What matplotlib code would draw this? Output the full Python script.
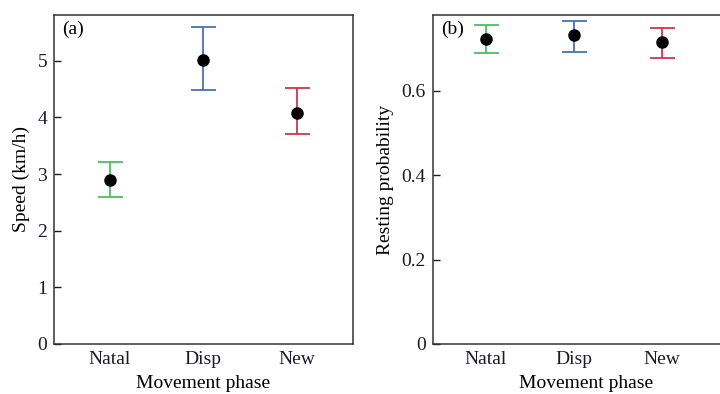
import numpy as np
import matplotlib
matplotlib.use("Agg")
import matplotlib.pyplot as plt

plt.rcParams['font.family'] = ['Liberation Serif', 'DejaVu Serif']

phases = ['Natal', 'Disp', 'New']
colors = ['#4cbf5e', '#4a6fb4', '#d1344c']

# (a) speed, km/h
speed_mean = [2.90, 5.01, 4.08]
speed_low = [2.60, 4.48, 3.70]
speed_high = [3.22, 5.59, 4.52]

# (b) resting probability
rest_mean = [0.723, 0.732, 0.716]
rest_low = [0.690, 0.693, 0.679]
rest_high = [0.757, 0.766, 0.750]

W, H = 720, 394
FS = 14
fig = plt.figure(figsize=(W / 100, H / 100), dpi=100)
ax1 = fig.add_axes([54 / W, 50 / H, 298.7 / W, 329 / H])
ax2 = fig.add_axes([432.7 / W, 50 / H, (800 - 432.7) / W, 329 / H])


def draw(ax, mean, low, high):
    x = np.arange(1, len(phases) + 1)
    mean = np.array(mean)
    err = [mean - np.array(low), np.array(high) - mean]
    for i in range(len(x)):
        ax.errorbar(x[i], mean[i], yerr=[[err[0][i]], [err[1][i]]], fmt='none',
                    ecolor=colors[i], elinewidth=1.3, capsize=9, capthick=1.3)
    ax.plot(x, mean, 'o', color='black', markersize=8, zorder=5)
    ax.set_xticks(x)
    ax.set_xticklabels(phases)
    ax.tick_params(axis='x', length=0, pad=5, labelsize=FS, colors='#1a1a2a')
    ax.tick_params(axis='y', direction='in', length=5, width=1, pad=5,
                   labelsize=FS, colors='#1a1a2a')
    for s in ax.spines.values():
        s.set_color('#333333')
        s.set_linewidth(1.1)
    ax.set_xlabel('Movement phase', fontsize=FS, labelpad=5)


draw(ax1, speed_mean, speed_low, speed_high)
ax1.set_xlim(0.4, 3.6)
ax1.set_ylim(0, 5.81)
ax1.set_yticks([0, 1, 2, 3, 4, 5])
ax1.set_ylabel('Speed (km/h)', fontsize=FS, labelpad=5)
ax1.annotate('(a)', xy=(0, 1), xycoords='axes fraction', xytext=(6, -10),
             textcoords='offset points', ha='left', va='center', fontsize=FS)

draw(ax2, rest_mean, rest_low, rest_high)
ax2.set_xlim(0.4, 0.4 + (800 - 432.7) / 88)
ax2.set_ylim(0, 0.78)
ax2.set_yticks([0, 0.2, 0.4, 0.6])
ax2.set_yticklabels(['0', '0.2', '0.4', '0.6'])
ax2.spines['right'].set_visible(False)
ax2.set_ylabel('Resting probability', fontsize=FS, labelpad=5)
ax2.annotate('(b)', xy=(0, 1), xycoords='axes fraction', xytext=(6, -10),
             textcoords='offset points', ha='left', va='center', fontsize=FS)

# the reference panel (b) runs off the right edge of the figure
ax2.set_xlabel('Movement phase', fontsize=FS, labelpad=5, x=(586 - 432.7) / (800 - 432.7),
               ha='center')

fig.savefig('out.png', dpi=100)
